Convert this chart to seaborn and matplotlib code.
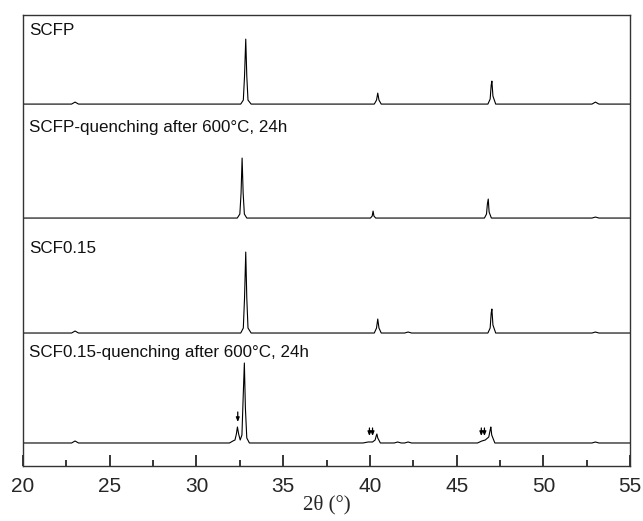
import numpy as np
import pandas as pd
import seaborn as sns
import matplotlib.pyplot as plt

# 样品名称
labels = ['SCFP', 'SCFP-quenching after 600°C, 24h', 'SCF0.15',
          'SCF0.15-quenching after 600°C, 24h']
offsets = [362, 248, 133, 23]
label_y = [436, 339, 218, 114]

# 各曲线 (2theta, 强度)
x_scfp = [20, 22.8, 23.0, 23.2, 32.55, 32.7, 32.77, 32.84, 32.9, 32.97, 33.15,
          40.25, 40.38, 40.45, 40.52, 40.65, 46.8, 46.93, 46.99, 47.03, 47.09, 47.25,
          52.8, 53.0, 53.2, 55]
y_scfp = [0, 0, 2, 0, 0, 4, 28, 65, 28, 4, 0,
          0, 4, 11, 4, 0, 0, 5, 19, 23, 8, 0,
          0, 2, 0, 0]

x_scfp_q = [20, 32.35, 32.5, 32.57, 32.63, 32.69, 32.76, 32.9,
            40.03, 40.13, 40.18, 40.23, 40.33, 46.6, 46.72, 46.77, 46.82, 46.87, 47.0,
            52.8, 53.0, 53.2, 55]
y_scfp_q = [0, 0, 4, 25, 60, 25, 4, 0,
            0, 2, 7, 2, 0, 0, 4, 14, 19, 6, 0,
            0, 1, 0, 0]

x_scf = [20, 22.8, 23.0, 23.2, 32.55, 32.7, 32.77, 32.84, 32.9, 32.97, 33.15,
         40.25, 40.38, 40.45, 40.52, 40.65, 42.0, 42.2, 42.4,
         46.8, 46.93, 46.99, 47.03, 47.09, 47.25, 52.8, 53.0, 53.2, 55]
y_scf = [0, 0, 2, 0, 0, 5, 35, 81, 35, 5, 0,
         0, 5, 14, 5, 0, 0, 1, 0,
         0, 5, 20, 24, 8, 0, 0, 1, 0, 0]

x_scf_q = [20, 22.8, 23.0, 23.2, 31.9, 32.1, 32.22, 32.3, 32.36, 32.43, 32.52,
           32.62, 32.69, 32.76, 32.82, 32.9, 33.05,
           39.6, 39.9, 40.15, 40.3, 40.36, 40.4, 40.45, 40.6, 41.4, 41.6, 41.8,
           42.0, 42.2, 42.4, 46.2, 46.45, 46.65, 46.85, 46.93, 46.97, 47.02, 47.2,
           52.8, 53.0, 53.2, 55]
y_scf_q = [0, 0, 2, 0, 0, 2, 3, 9, 16, 9, 3,
           8, 45, 80, 35, 5, 0,
           0, 1, 1, 3, 7, 9, 5, 0, 0, 1, 0,
           0, 1, 0, 0, 2, 3, 6, 13, 16, 8, 0,
           0, 1, 0, 0]

traces = [(x_scfp, y_scfp), (x_scfp_q, y_scfp_q), (x_scf, y_scf), (x_scf_q, y_scf_q)]

# 箭头 (标记杂峰)
arrow_x = [32.38, 39.97, 40.15, 46.42, 46.6]
arrow_tip = [44, 30, 30, 30, 30]
arrow_tail = [54, 38, 38, 38, 38]

sns.set_style('ticks')
plt.rcParams['font.family'] = ['Liberation Sans', 'DejaVu Sans']

fig = plt.figure(figsize=(6.43, 5.21), dpi=100)
ax = fig.add_axes([0.0358, 0.1056, 0.9442, 0.8654])

for (xs, ys), off in zip(traces, offsets):
    df = pd.DataFrame({'x': xs, 'y': np.array(ys) + off})
    sns.lineplot(data=df, x='x', y='y', ax=ax, color='black', linewidth=0.8,
                 estimator=None, sort=False)

for lab, ly in zip(labels, label_y):
    ax.text(20.35, ly, lab, fontsize=12.25, va='center', ha='left', color='#111111')

for axx, tip, tail in zip(arrow_x, arrow_tip, arrow_tail):
    ax.annotate('', xy=(axx, tip), xytext=(axx, tail),
                arrowprops=dict(arrowstyle='-|>,head_length=0.25,head_width=0.1',
                                color='black', lw=0.9, shrinkA=0, shrinkB=0))

ax.set_xlim(20, 55)
ax.set_ylim(0, 451)
ax.set_xticks(np.arange(20, 56, 5))
ax.set_xticks(np.arange(22.5, 55, 5), minor=True)
ax.set_yticks([])
ax.tick_params(axis='x', which='major', direction='in', length=8, width=1.3,
               labelsize=15, pad=8, top=False)
ax.tick_params(axis='x', which='minor', direction='in', length=4, width=1.3, top=False)
for s in ax.spines.values():
    s.set_linewidth(1.0)
    s.set_color('#333333')
ax.set_xlabel('2θ (°)', fontsize=15, family=['Liberation Serif', 'DejaVu Serif'], labelpad=-1)
ax.set_ylabel('')

plt.savefig('out.png', dpi=100)
